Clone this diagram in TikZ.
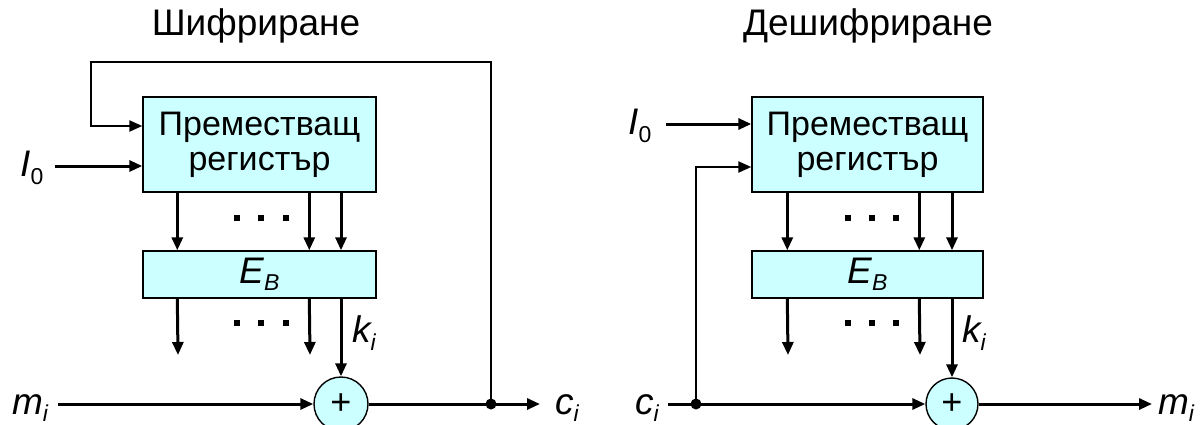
\documentclass[tikz,border=0pt]{standalone}
\usepackage{fontspec}
\setmainfont{Liberation Sans}
\usetikzlibrary{arrows.meta}
\definecolor{boxcyan}{HTML}{CCFFFF}
\newcommand{\lbl}[2]{\fontsize{37}{37}\selectfont\itshape #1\raisebox{-0.2em}{\fontsize{23}{23}\selectfont #2}}
\begin{document}
\begin{tikzpicture}[x=1pt,y=-1pt,
  box/.style={draw, line width=1.4pt, fill=boxcyan, inner sep=0pt, align=center},
  arr/.style={-{Triangle[length=13pt,width=11pt]}, line width=3pt},
  fbarr/.style={-{Triangle[length=13pt,width=11pt]}, line width=2.3pt},
  ttl/.style={font=\fontsize{37}{37}\selectfont},
  txt/.style={font=\fontsize{34}{35}\selectfont},
  lab/.style={inner sep=0pt}]
\useasboundingbox (0,0) rectangle (1200,424);

% ---------------- Left: encryption ----------------
\node[ttl, anchor=base] (t1) at (256,35) {Шифриране};
\node[box, txt, minimum width=233pt, minimum height=95pt] (reg1) at (259.5,144.5) {Преместващ\\регистър};
\node[box, minimum width=233pt, minimum height=47pt] (eb1) at (259.5,274.5) {\lbl{E}{B}};
\node[box, circle, minimum size=54pt] (x1) at (341,404) {\fontsize{36}{36}\selectfont +};

\draw[arr] ([xshift=35pt]reg1.south west) -- ([xshift=35pt]eb1.north west);
\draw[arr] ([xshift=167pt]reg1.south west) -- ([xshift=167pt]eb1.north west);
\draw[arr] (x1.north |- reg1.south) -- (x1.north |- eb1.north);
\coordinate (o1a) at (178,355);
\coordinate (o1b) at (310,355);
\draw[arr] ([xshift=35pt]eb1.south west) -- (o1a);
\draw[arr] ([xshift=167pt]eb1.south west) -- (o1b);
\draw[arr] (x1.north |- eb1.south) -- (x1.north);
\foreach \x in {237,261,286} {
  \fill (\x-3,215) rectangle +(6,6);
  \fill (\x-3,320) rectangle +(6,6);
}
\node[lab] (k1) at (364,333) {\lbl{k}{i}};

\node[lab] (i1) at (32,168) {\lbl{I}{\upshape 0}};
\coordinate (i1s) at (55,166);
\draw[arr] (i1s) -- (reg1.west |- i1s);

\node[lab, anchor=base] (m1) at (30,414) {\lbl{m}{i}};
\coordinate (m1s) at (58,404);
\draw[arr] (m1s) -- (x1.west);
\coordinate (d1) at (491,404);
\coordinate (c1e) at (540,404);
\draw[arr] (x1.east) -- (c1e);
\node[lab, anchor=base] (c1) at (567,414) {\lbl{c}{i}};
\coordinate (f1a) at (491,62);
\coordinate (f1b) at (91,62);
\coordinate (f1c) at (91,126);
\draw[fbarr] (d1) -- (f1a) -- (f1b) -- (f1c) -- (reg1.west |- f1c);
\fill (d1) circle (5.5pt);

% ---------------- Right: decryption ----------------
\node[ttl, anchor=base] (t2) at (868,35) {Дешифриране};
\node[box, txt, minimum width=231pt, minimum height=95pt] (reg2) at (867.5,144.5) {Преместващ\\регистър};
\node[box, minimum width=231pt, minimum height=47pt] (eb2) at (867.5,274.5) {\lbl{E}{B}};
\node[box, circle, minimum size=52pt] (x2) at (952,404) {\fontsize{36}{36}\selectfont +};

\draw[arr] ([xshift=36pt]reg2.south west) -- ([xshift=36pt]eb2.north west);
\draw[arr] ([xshift=168pt]reg2.south west) -- ([xshift=168pt]eb2.north west);
\draw[arr] (x2.north |- reg2.south) -- (x2.north |- eb2.north);
\coordinate (o2a) at (788,355);
\coordinate (o2b) at (920,355);
\draw[arr] ([xshift=36pt]eb2.south west) -- (o2a);
\draw[arr] ([xshift=168pt]eb2.south west) -- (o2b);
\draw[arr] (x2.north |- eb2.south) -- (x2.north);
\foreach \x in {848,872,896} {
  \fill (\x-3,215) rectangle +(6,6);
  \fill (\x-3,320) rectangle +(6,6);
}
\node[lab] (k2) at (974,333) {\lbl{k}{i}};

\node[lab] (i2) at (640,126) {\lbl{I}{\upshape 0}};
\coordinate (i2s) at (666,124);
\draw[arr] (i2s) -- (reg2.west |- i2s);

\node[lab, anchor=base] (c2) at (647,414) {\lbl{c}{i}};
\coordinate (c2s) at (668,404);
\coordinate (d2) at (696,404);
\draw[arr] (c2s) -- (x2.west);
\coordinate (f2) at (696,167);
\draw[fbarr] (d2) -- (f2) -- (reg2.west |- f2);
\fill (d2) circle (5.5pt);
\coordinate (m2e) at (1152,404);
\draw[arr] (x2.east) -- (m2e);
\node[lab, anchor=base] (m2) at (1176,414) {\lbl{m}{i}};
\end{tikzpicture}
\end{document}
